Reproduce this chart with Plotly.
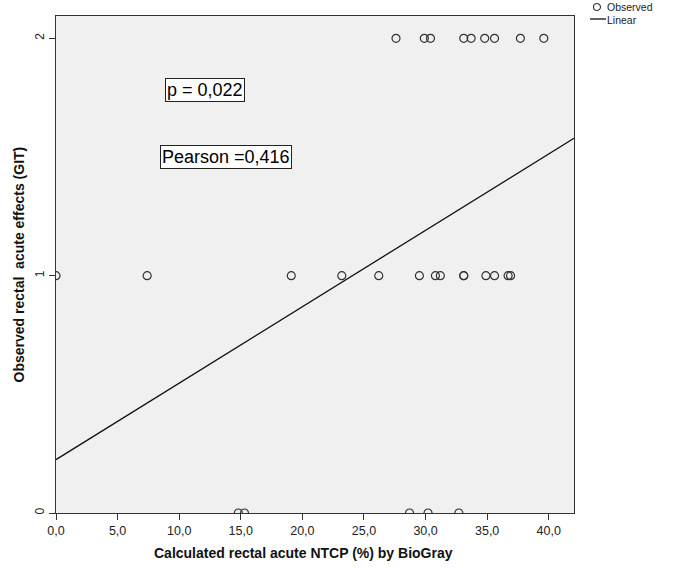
import plotly.graph_objects as go

# Calculated NTCP (%) per patient, grouped by observed acute toxicity grade
ntcp_grade2 = [27.6, 29.9, 30.4, 33.1, 33.7, 34.8, 35.6, 37.7, 39.6]
ntcp_grade1 = [0.0, 7.4, 19.1, 23.2, 26.2, 29.5, 30.8, 31.2, 33.1, 33.1,
               34.9, 35.6, 36.7, 36.9]
ntcp_grade0 = [14.8, 15.3, 28.7, 30.2, 32.7]

grades = [2, 1, 0]
x_ticks = [0, 5, 10, 15, 20, 25, 30, 35, 40]

# Linear fit of observed grade on calculated NTCP
fit_intercept = 0.225
fit_slope = 0.0322

p_text = "p = 0,022"
pearson_text = "Pearson =0,416"

X_MAX = 42.05
Y_MAX = 2.094
FONT = "Arial, Liberation Sans, sans-serif"

obs_x = ntcp_grade2 + ntcp_grade1 + ntcp_grade0
obs_y = ([grades[0]] * len(ntcp_grade2) + [grades[1]] * len(ntcp_grade1)
         + [grades[2]] * len(ntcp_grade0))

fig = go.Figure()
fig.add_trace(go.Scatter(
    x=obs_x, y=obs_y, mode="markers", name="Observed", showlegend=False,
    marker=dict(symbol="circle-open", size=8, color="#333333",
                line=dict(width=1.2, color="#333333")),
))
line_x = [0, X_MAX]
line_y = [fit_intercept + fit_slope * v for v in line_x]
fig.add_trace(go.Scatter(
    x=line_x, y=line_y, mode="lines", name="Linear", showlegend=False,
    line=dict(color="#111111", width=1.3),
))

box = dict(showarrow=False, bgcolor="white", bordercolor="#222222",
           borderwidth=1, borderpad=1, xref="x", yref="y",
           font=dict(family=FONT, size=18, color="black"))
fig.add_annotation(x=12.09, y=1.781, text=p_text, **box)
fig.add_annotation(x=13.77, y=1.50, text=pearson_text, **box)

# Axis titles
fig.add_annotation(x=(303 - 56) / 518, y=-0.081, xref="paper", yref="paper",
                   text="<b>Calculated rectal acute NTCP (%) by BioGray</b>",
                   showarrow=False, yanchor="middle",
                   font=dict(family=FONT, size=14, color="#111111"))
fig.add_annotation(x=(18 - 56) / 518, y=0.5, xref="paper", yref="paper",
                   text="<b>Observed rectal  acute effects (GIT)</b>",
                   showarrow=False, textangle=-90, xanchor="center",
                   font=dict(family=FONT, size=14, color="#111111"))

# Legend drawn beside the frame
lx = lambda px: (px - 56) / 518
ly = lambda py: (513 - py) / 497
fig.add_shape(type="circle", xref="paper", yref="paper",
              xsizemode="pixel", ysizemode="pixel",
              xanchor=lx(597), yanchor=ly(7), x0=-3.5, x1=3.5, y0=-3.5, y1=3.5,
              line=dict(color="#333333", width=1.1))
fig.add_shape(type="line", xref="paper", yref="paper",
              x0=lx(590), x1=lx(606), y0=ly(19), y1=ly(19),
              line=dict(color="#111111", width=1.3))
leg = dict(xref="paper", yref="paper", showarrow=False, xanchor="left",
           yanchor="middle", borderpad=0,
           font=dict(family=FONT, size=10.5, color="#222222"))
fig.add_annotation(x=lx(606), y=ly(7), text="Observed", **leg)
fig.add_annotation(x=lx(606), y=ly(20), text="Linear", **leg)

fig.update_layout(
    width=677, height=568,
    margin=dict(l=56, r=103, t=16, b=55),
    paper_bgcolor="white", plot_bgcolor="#F0F0F0",
    separators=",.",
    showlegend=False,
    font=dict(family=FONT, size=12, color="#222222"),
)
fig.update_xaxes(
    range=[0, X_MAX], tickvals=x_ticks, tickformat=".1f",
    showgrid=False, zeroline=False,
    showline=True, mirror=True, linecolor="#333333", linewidth=1.2,
    ticks="outside", ticklen=6, tickcolor="#333333", tickwidth=1.2,
    tickfont=dict(family=FONT, size=12.5, color="#222222"),
)
fig.update_yaxes(
    range=[0, Y_MAX], tickvals=grades, tickangle=-90,
    showgrid=False, zeroline=False,
    showline=True, mirror=True, linecolor="#333333", linewidth=1.2,
    ticks="outside", ticklen=6, tickcolor="#333333", tickwidth=1.2,
    tickfont=dict(family=FONT, size=12, color="#222222"),
)

fig.write_html("out.html")
